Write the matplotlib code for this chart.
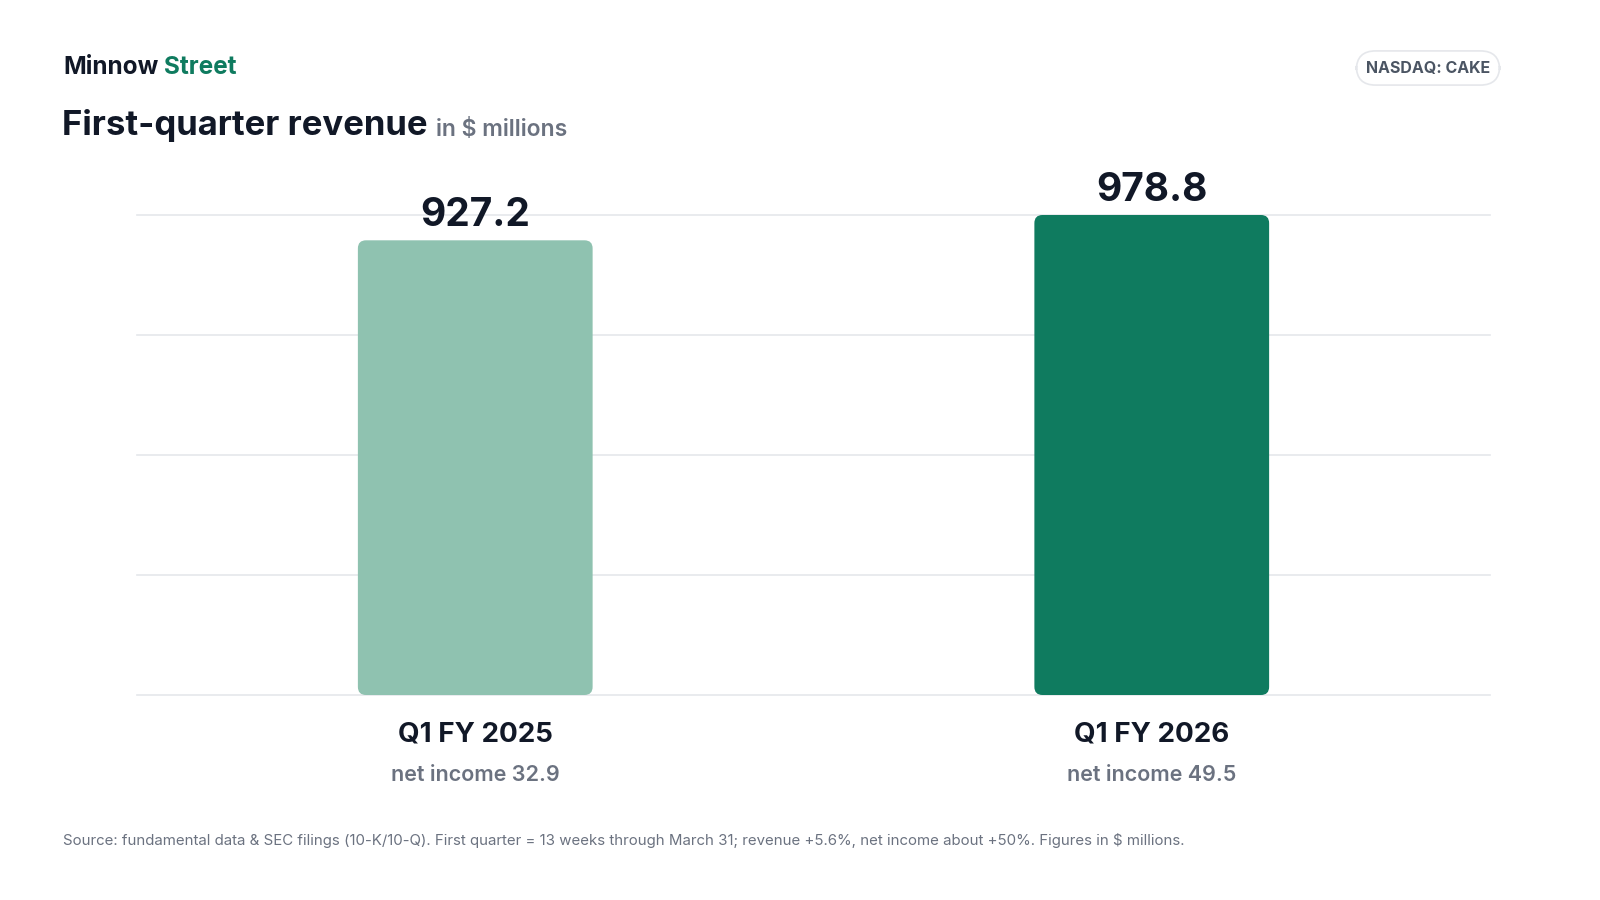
import matplotlib.pyplot as plt
from matplotlib.patches import FancyBboxPatch
from matplotlib.transforms import offset_copy
import numpy as np

categories = ['Q1 FY 2025', 'Q1 FY 2026']
revenue = [927.2, 978.8]
net_income = [32.9, 49.5]
colors = ['#8FC2B0', '#0F7B5F']

dark = '#111827'
grey = '#6B7280'
plt.rcParams['font.family'] = ['Inter', 'DejaVu Sans']

fig = plt.figure(figsize=(16, 9), dpi=100)
W, H = 1600, 900
ax = fig.add_axes([137 / W, 1 - 695 / H, (1490 - 137) / W, (695 - 215) / H])

ymax = max(revenue)
ax.set_ylim(0, ymax)
ax.set_xlim(-0.5, 1.5)
for t in np.linspace(0, ymax, 5):
    ax.axhline(t, color='#E5E7EB', lw=1.2, zorder=0, clip_on=False)

bw = 0.347
asp = (ymax / 480) / (2 / 1353)
for i, (v, c) in enumerate(zip(revenue, colors)):
    p = FancyBboxPatch((i - bw / 2, 0), bw, v,
                       boxstyle='round,pad=0,rounding_size=0.012',
                       mutation_aspect=asp, fc=c, ec='none', zorder=2)
    ax.add_patch(p)
    ax.text(i, v + 12, f'{v:.1f}', ha='center', va='bottom', fontsize=28,
            fontweight='bold', color=dark)
    ax.text(i, -55, categories[i], ha='center', va='top', fontsize=20,
            fontweight='bold', color=dark)
    ax.text(i, -142, f'net income {net_income[i]}', ha='center', va='top',
            fontsize=15.5, fontweight='semibold', color=grey)
ax.axis('off')

r = fig.canvas.get_renderer()


def follow(prev, s, gap, **kw):
    ext = prev.get_window_extent(renderer=r)
    x = (ext.x1 + gap) / fig.dpi / 16 * 1
    return fig.text(ext.x1 / (W) + gap / W, kw.pop('y'), s, **kw)


t1 = fig.text(63 / W, 1 - 68 / H, 'Minnow', fontsize=17.5, fontweight='bold',
              color=dark, va='center')
follow(t1, 'Street', 6, y=1 - 68 / H, fontsize=17.5, fontweight='bold',
       color='#0F7B5F', va='center')
t2 = fig.text(62 / W, 1 - 126 / H, 'First-quarter revenue', fontsize=25,
              fontweight='bold', color=dark, va='center')
follow(t2, 'in $ millions', 8, y=1 - 130 / H, fontsize=16.5,
       fontweight='semibold', color=grey, va='center')
fig.text(1428 / W, 1 - 68 / H, 'NASDAQ: CAKE', fontsize=11.5, fontweight='bold',
         color='#4B5563', ha='center', va='center',
         bbox=dict(boxstyle='round,pad=0.6,rounding_size=1.2', fc='white',
                   ec='#E5E7EB', lw=1.2))
fig.text(63 / W, 1 - 840 / H,
         'Source: fundamental data & SEC filings (10-K/10-Q). First quarter = 13 weeks '
         'through March 31; revenue +5.6%, net income about +50%. Figures in $ millions.',
         fontsize=10.8, color=grey, va='center')

fig.savefig('out.png', dpi=100, facecolor='white')
